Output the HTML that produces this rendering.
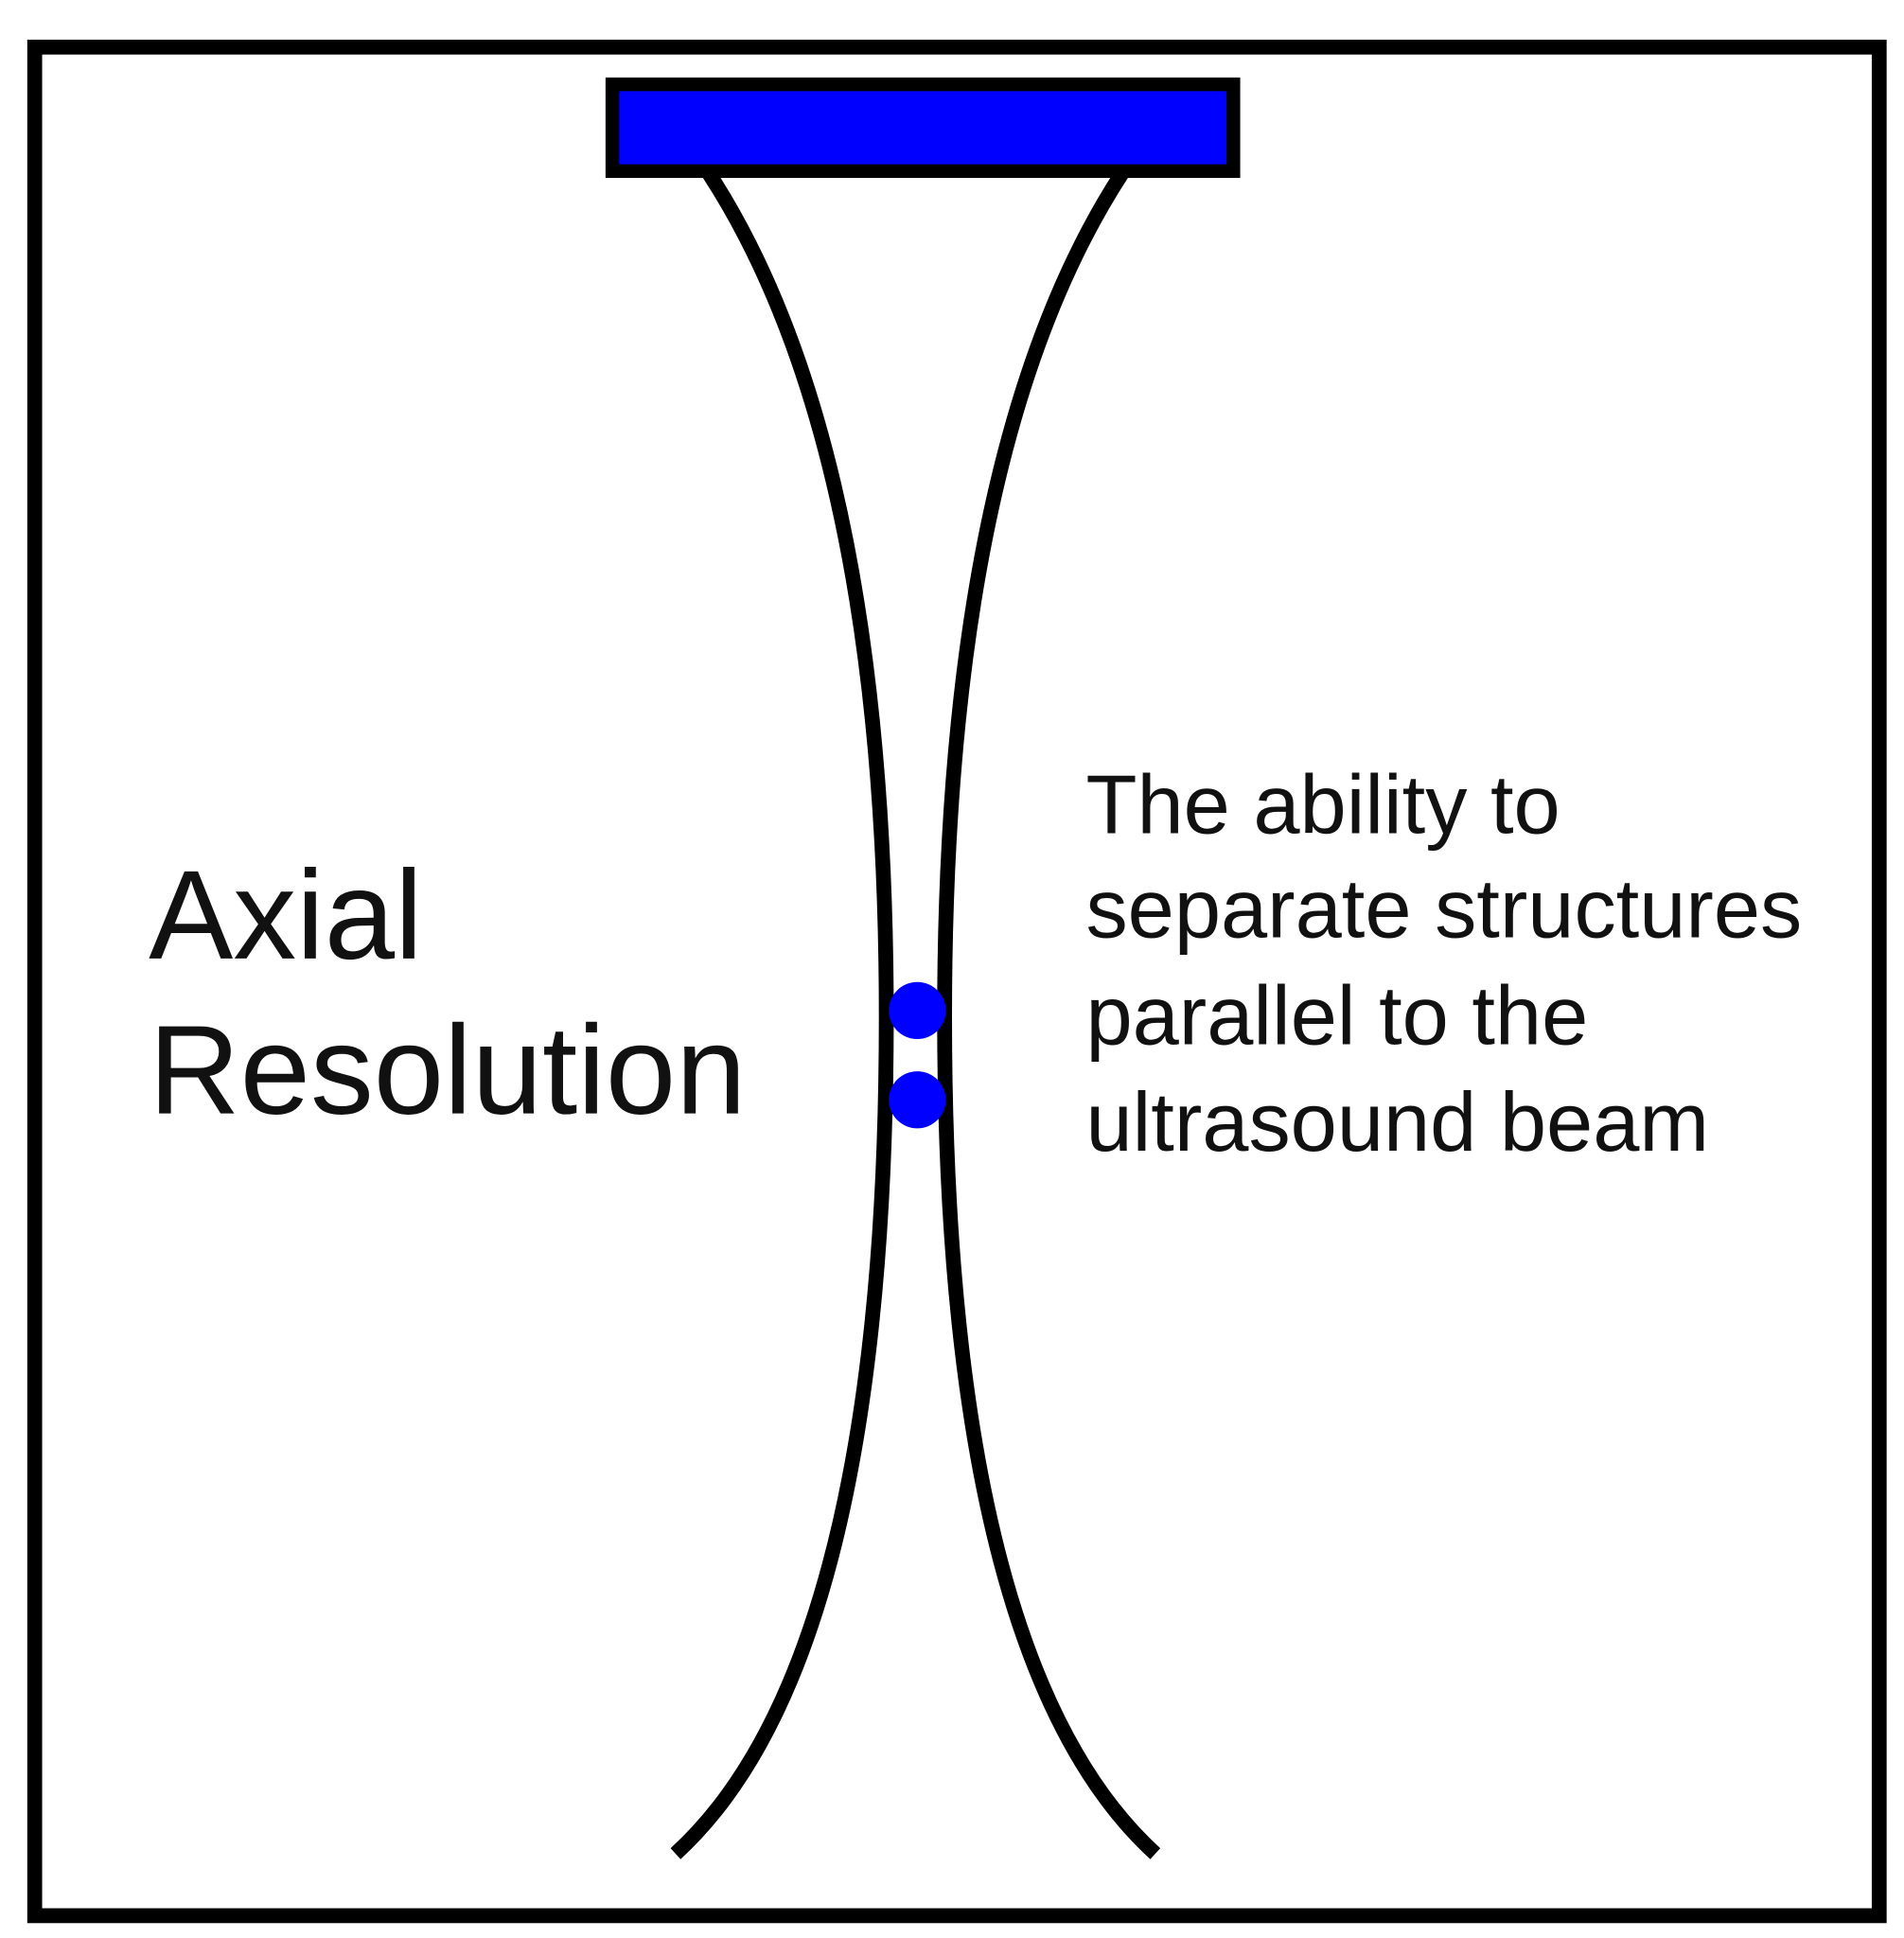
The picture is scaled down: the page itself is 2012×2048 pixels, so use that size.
<!DOCTYPE html>
<html><head><meta charset="utf-8"><style>html,body{margin:0;padding:0;background:#fff}svg{display:block}</style></head>
<body>
<svg width="2012" height="2048" viewBox="0 0 1536 1563" preserveAspectRatio="none" xmlns="http://www.w3.org/2000/svg">
<rect x="28" y="38" width="1488" height="1507" fill="#fff" stroke="#000" stroke-width="12"/>
<rect x="494" y="68" width="501" height="70" fill="#0000ff" stroke="#000" stroke-width="11"/>
<path d="M572 140 Q715 360 715 820 Q715 1340 545 1495" fill="none" stroke="#000" stroke-width="12"/>
<path d="M905 140 Q762 360 762 820 Q762 1340 932 1495" fill="none" stroke="#000" stroke-width="12"/>
<circle cx="740" cy="815" r="23" fill="#0000ff"/>
<circle cx="740" cy="887" r="23" fill="#0000ff"/>
<g font-family="Liberation Sans, sans-serif" fill="#111">
<text x="120" y="773" font-size="102">Axial</text>
<text x="120" y="898" font-size="102">Resolution</text>
<g font-size="67.5">
<text x="876" y="672">The ability to</text>
<text x="876" y="756">separate structures</text>
<text x="876" y="842">parallel to the</text>
<text x="876" y="928">ultrasound beam</text>
</g></g>
</svg>
</body></html>
